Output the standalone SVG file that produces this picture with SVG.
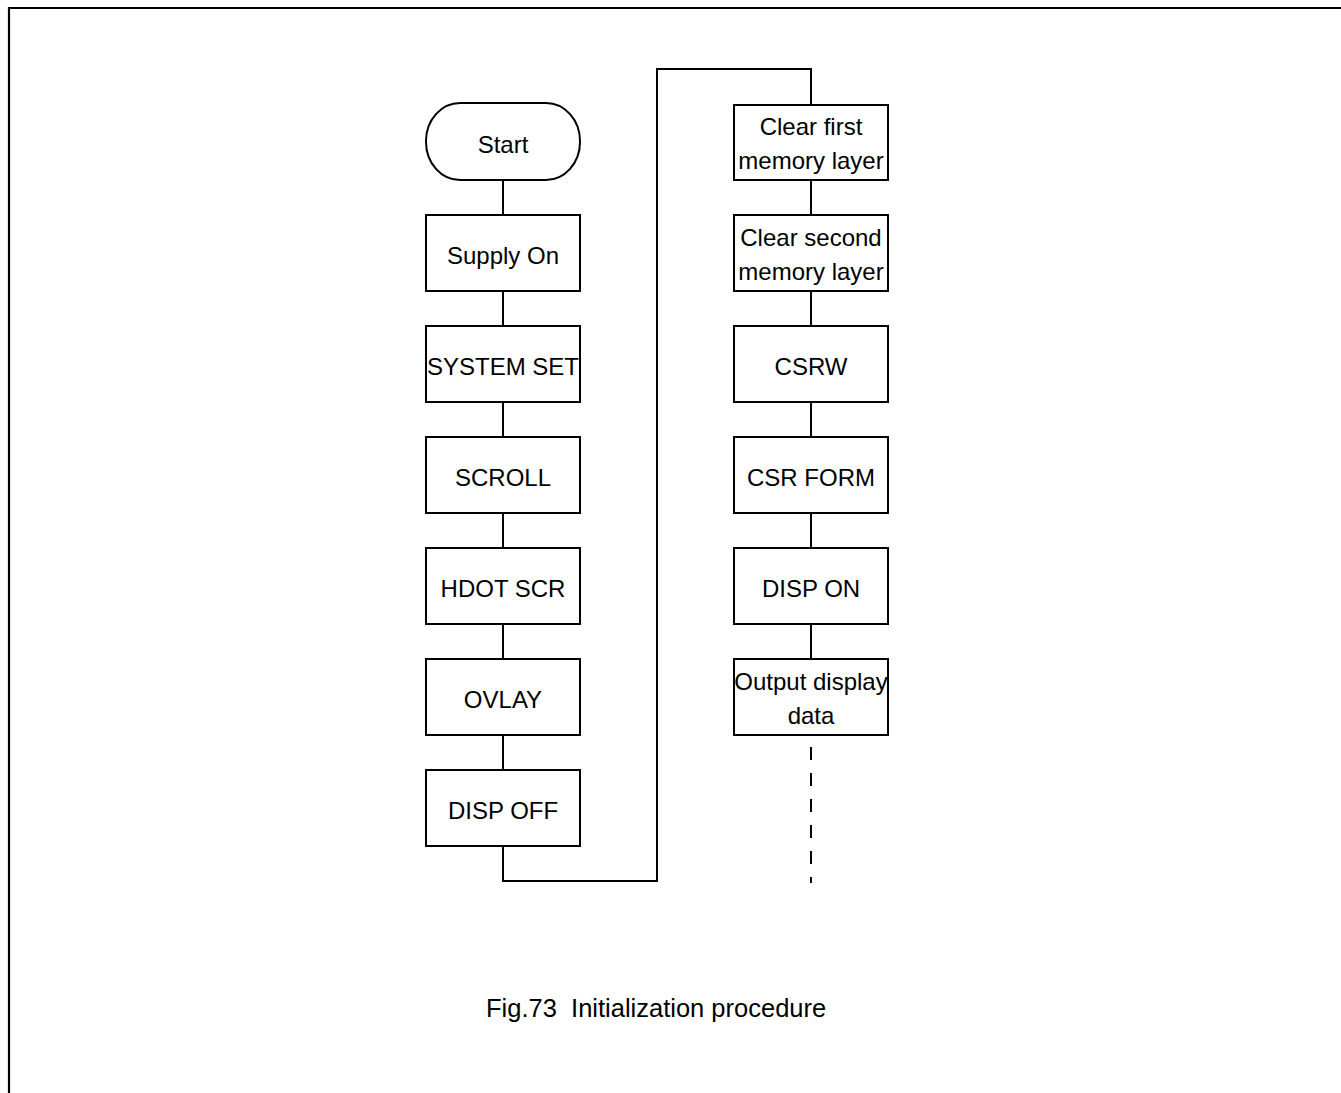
<svg xmlns="http://www.w3.org/2000/svg" width="1341" height="1093" viewBox="0 0 1341 1093">
<style>
.box{fill:#fff;stroke:#000;stroke-width:2}
.lbl{font-family:"Liberation Sans",Arial,sans-serif;font-size:24px;fill:#000;text-anchor:middle}
.cap{font-family:"Liberation Sans",Arial,sans-serif;font-size:25.5px;fill:#000;white-space:pre}
.con{fill:none;stroke:#000;stroke-width:2}
</style>
<rect width="1341" height="1093" fill="#fff"/>
<path d="M9,1093 V8 H1341" fill="none" stroke="#000" stroke-width="2.2"/>
<g id="connectors">
<line class="con" x1="503" y1="180" x2="503" y2="215"/>
<line class="con" x1="503" y1="291" x2="503" y2="326"/>
<line class="con" x1="503" y1="402" x2="503" y2="437"/>
<line class="con" x1="503" y1="513" x2="503" y2="548"/>
<line class="con" x1="503" y1="624" x2="503" y2="659"/>
<line class="con" x1="503" y1="735" x2="503" y2="770"/>
<path class="con" d="M503,846 V881 H657 V69 H811 V105"/>
<line class="con" x1="811" y1="180" x2="811" y2="215"/>
<line class="con" x1="811" y1="291" x2="811" y2="326"/>
<line class="con" x1="811" y1="402" x2="811" y2="437"/>
<line class="con" x1="811" y1="513" x2="811" y2="548"/>
<line class="con" x1="811" y1="624" x2="811" y2="659"/>
<line class="con" x1="811" y1="747" x2="811" y2="883" stroke-width="2.2" stroke-dasharray="13 13"/>
</g>
<g id="start">
<rect class="box" x="426" y="103" width="154" height="77" rx="34" ry="38"/>
<text class="lbl" x="503" y="153">Start</text>
</g>
<g id="supply-on">
<rect class="box" x="426" y="215" width="154" height="76"/>
<text class="lbl" x="503" y="264">Supply On</text>
</g>
<g id="system-set">
<rect class="box" x="426" y="326" width="154" height="76"/>
<text class="lbl" x="503" y="375">SYSTEM SET</text>
</g>
<g id="scroll">
<rect class="box" x="426" y="437" width="154" height="76"/>
<text class="lbl" x="503" y="486">SCROLL</text>
</g>
<g id="hdot-scr">
<rect class="box" x="426" y="548" width="154" height="76"/>
<text class="lbl" x="503" y="597">HDOT SCR</text>
</g>
<g id="ovlay">
<rect class="box" x="426" y="659" width="154" height="76"/>
<text class="lbl" x="503" y="708">OVLAY</text>
</g>
<g id="disp-off">
<rect class="box" x="426" y="770" width="154" height="76"/>
<text class="lbl" x="503" y="819">DISP OFF</text>
</g>
<g id="clear-first">
<rect class="box" x="734" y="105" width="154" height="75"/>
<text class="lbl" x="811" y="135">Clear first</text>
<text class="lbl" x="811" y="169">memory layer</text>
</g>
<g id="clear-second">
<rect class="box" x="734" y="215" width="154" height="76"/>
<text class="lbl" x="811" y="246">Clear second</text>
<text class="lbl" x="811" y="280">memory layer</text>
</g>
<g id="csrw">
<rect class="box" x="734" y="326" width="154" height="76"/>
<text class="lbl" x="811" y="375">CSRW</text>
</g>
<g id="csr-form">
<rect class="box" x="734" y="437" width="154" height="76"/>
<text class="lbl" x="811" y="486">CSR FORM</text>
</g>
<g id="disp-on">
<rect class="box" x="734" y="548" width="154" height="76"/>
<text class="lbl" x="811" y="597">DISP ON</text>
</g>
<g id="output-display-data">
<rect class="box" x="734" y="659" width="154" height="76"/>
<text class="lbl" x="811" y="690">Output display</text>
<text class="lbl" x="811" y="724">data</text>
</g>
<text class="cap" x="486" y="1017" xml:space="preserve">Fig.73  Initialization procedure</text>
</svg>
